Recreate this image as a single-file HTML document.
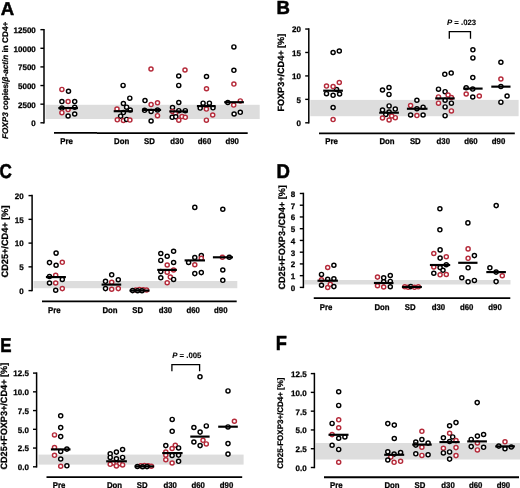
<!DOCTYPE html>
<html><head><meta charset="utf-8"><title>Figure</title>
<style>
html,body{margin:0;padding:0;background:#fff;}
body{width:520px;height:488px;overflow:hidden;}
svg{display:block;will-change:transform;}
svg text{text-rendering:geometricPrecision;font-family:"Liberation Sans", sans-serif;fill:#000;stroke:#000;stroke-width:0.25px;}
svg circle{fill:#fff;stroke-width:1.45;}
</style></head>
<body>
<svg width="520" height="488" viewBox="0 0 520 488">
<rect width="520" height="488" fill="#fff"/>
<rect x="45.5" y="104.8" width="214.2" height="14.200000000000003" fill="#dddddd"/>
<text transform="translate(0.8 14.8) scale(1.0 1.0)" font-size="18.6" font-weight="bold" style="stroke-width:0.5px">A</text>
<line x1="44" y1="28.900000000000006" x2="44" y2="123.55" stroke="#000" stroke-width="1.5"/>
<line x1="40.4" y1="122.8" x2="44" y2="122.8" stroke="#000" stroke-width="1.4"/>
<text transform="translate(35.8 126.14999999999999) scale(1 1.0)" font-size="8.0" text-anchor="end" font-weight="bold" font-style="normal" >0</text>
<line x1="40.4" y1="104.17" x2="44" y2="104.17" stroke="#000" stroke-width="1.4"/>
<text transform="translate(35.8 107.52) scale(1 1.0)" font-size="8.0" text-anchor="end" font-weight="bold" font-style="normal" >2500</text>
<line x1="40.4" y1="85.53999999999999" x2="44" y2="85.53999999999999" stroke="#000" stroke-width="1.4"/>
<text transform="translate(35.8 88.88999999999999) scale(1 1.0)" font-size="8.0" text-anchor="end" font-weight="bold" font-style="normal" >5000</text>
<line x1="40.4" y1="66.91" x2="44" y2="66.91" stroke="#000" stroke-width="1.4"/>
<text transform="translate(35.8 70.25999999999999) scale(1 1.0)" font-size="8.0" text-anchor="end" font-weight="bold" font-style="normal" >7500</text>
<line x1="40.4" y1="48.28" x2="44" y2="48.28" stroke="#000" stroke-width="1.4"/>
<text transform="translate(35.8 51.63) scale(1 1.0)" font-size="8.0" text-anchor="end" font-weight="bold" font-style="normal" >10000</text>
<line x1="40.4" y1="29.650000000000006" x2="44" y2="29.650000000000006" stroke="#000" stroke-width="1.4"/>
<text transform="translate(35.8 33.00000000000001) scale(1 1.0)" font-size="8.0" text-anchor="end" font-weight="bold" font-style="normal" >12500</text>
<line x1="54" y1="132.8" x2="97" y2="132.8" stroke="#000" stroke-width="1.8"/>
<line x1="97" y1="133.1" x2="247.7" y2="133.1" stroke="#000" stroke-width="1.8"/>
<text transform="translate(66.5 143.9) scale(1 1.08)" font-size="7.8" text-anchor="middle" font-weight="bold" font-style="normal" >Pre</text>
<text transform="translate(121.6 143.9) scale(1 1.08)" font-size="7.8" text-anchor="middle" font-weight="bold" font-style="normal" >Don</text>
<text transform="translate(149.5 143.9) scale(1 1.08)" font-size="7.8" text-anchor="middle" font-weight="bold" font-style="normal" >SD</text>
<text transform="translate(177 143.9) scale(1 1.08)" font-size="7.8" text-anchor="middle" font-weight="bold" font-style="normal" >d30</text>
<text transform="translate(204.5 143.9) scale(1 1.08)" font-size="7.8" text-anchor="middle" font-weight="bold" font-style="normal" >d60</text>
<text transform="translate(232.2 143.9) scale(1 1.08)" font-size="7.8" text-anchor="middle" font-weight="bold" font-style="normal" >d90</text>
<text transform="translate(7.9,139) rotate(-90)" font-size="8.2" font-weight="bold" textLength="117.3" lengthAdjust="spacingAndGlyphs"><tspan font-style="italic">FOXP3</tspan> copies/<tspan font-style="italic">β-actin</tspan> in CD4+</text>
<circle cx="61.9" cy="89.4" r="2.05" stroke="#b52a3a"/>
<circle cx="68.5" cy="91.25" r="2.05" stroke="#000"/>
<circle cx="61.9" cy="101.6" r="2.05" stroke="#000"/>
<circle cx="68.1" cy="101.6" r="2.05" stroke="#b52a3a"/>
<circle cx="74.7" cy="101.6" r="2.05" stroke="#000"/>
<circle cx="61.9" cy="108.1" r="2.05" stroke="#000"/>
<circle cx="68.1" cy="109.6" r="2.05" stroke="#b52a3a"/>
<circle cx="74.7" cy="107.3" r="2.05" stroke="#000"/>
<circle cx="61.9" cy="112.7" r="2.05" stroke="#b52a3a"/>
<circle cx="68.1" cy="116.0" r="2.05" stroke="#000"/>
<circle cx="74.7" cy="114.0" r="2.05" stroke="#000"/>
<circle cx="123.1" cy="85.4" r="2.05" stroke="#000"/>
<circle cx="129.8" cy="98.2" r="2.05" stroke="#000"/>
<circle cx="123.4" cy="103.5" r="2.05" stroke="#000"/>
<circle cx="126.6" cy="107.2" r="2.05" stroke="#000"/>
<circle cx="117.0" cy="109.0" r="2.05" stroke="#b52a3a"/>
<circle cx="130.2" cy="110.1" r="2.05" stroke="#000"/>
<circle cx="123.4" cy="112.6" r="2.05" stroke="#000"/>
<circle cx="120.6" cy="116.2" r="2.05" stroke="#000"/>
<circle cx="117.3" cy="119.8" r="2.05" stroke="#b52a3a"/>
<circle cx="123.4" cy="120.5" r="2.05" stroke="#b52a3a"/>
<circle cx="126.6" cy="119.4" r="2.05" stroke="#000"/>
<circle cx="129.9" cy="120.1" r="2.05" stroke="#b52a3a"/>
<circle cx="151.0" cy="69.0" r="2.05" stroke="#b52a3a"/>
<circle cx="145.0" cy="100.6" r="2.05" stroke="#000"/>
<circle cx="151.1" cy="104.55" r="2.05" stroke="#b52a3a"/>
<circle cx="157.5" cy="102.8" r="2.05" stroke="#b52a3a"/>
<circle cx="144.6" cy="110.3" r="2.05" stroke="#000"/>
<circle cx="151.1" cy="111.4" r="2.05" stroke="#000"/>
<circle cx="157.5" cy="110.0" r="2.05" stroke="#000"/>
<circle cx="157.5" cy="115.7" r="2.05" stroke="#b52a3a"/>
<circle cx="151.1" cy="121.0" r="2.05" stroke="#000"/>
<circle cx="185.0" cy="70.0" r="2.05" stroke="#b52a3a"/>
<circle cx="178.75" cy="76.0" r="2.05" stroke="#000"/>
<circle cx="178.75" cy="85.4" r="2.05" stroke="#000"/>
<circle cx="178.8" cy="102.5" r="2.05" stroke="#000"/>
<circle cx="172.5" cy="107.5" r="2.05" stroke="#000"/>
<circle cx="178.8" cy="110.7" r="2.05" stroke="#000"/>
<circle cx="185.3" cy="110.7" r="2.05" stroke="#000"/>
<circle cx="172.5" cy="111.5" r="2.05" stroke="#b52a3a"/>
<circle cx="175.5" cy="113.4" r="2.05" stroke="#b52a3a"/>
<circle cx="172.2" cy="117.3" r="2.05" stroke="#000"/>
<circle cx="175.8" cy="116.8" r="2.05" stroke="#000"/>
<circle cx="182.0" cy="116.6" r="2.05" stroke="#b52a3a"/>
<circle cx="185.3" cy="117.3" r="2.05" stroke="#b52a3a"/>
<circle cx="178.8" cy="120.2" r="2.05" stroke="#b52a3a"/>
<circle cx="206.5" cy="76.5" r="2.05" stroke="#000"/>
<circle cx="206.5" cy="88.75" r="2.05" stroke="#b52a3a"/>
<circle cx="203.1" cy="103.2" r="2.05" stroke="#000"/>
<circle cx="209.4" cy="103.2" r="2.05" stroke="#000"/>
<circle cx="200.2" cy="108.1" r="2.05" stroke="#000"/>
<circle cx="206.4" cy="109.1" r="2.05" stroke="#b52a3a"/>
<circle cx="213.0" cy="107.8" r="2.05" stroke="#000"/>
<circle cx="212.7" cy="115.0" r="2.05" stroke="#b52a3a"/>
<circle cx="206.4" cy="120.2" r="2.05" stroke="#b52a3a"/>
<circle cx="233.9" cy="46.9" r="2.05" stroke="#000"/>
<circle cx="233.9" cy="70.3" r="2.05" stroke="#000"/>
<circle cx="233.9" cy="84.1" r="2.05" stroke="#b52a3a"/>
<circle cx="227.8" cy="102.5" r="2.05" stroke="#000"/>
<circle cx="233.7" cy="105.1" r="2.05" stroke="#b52a3a"/>
<circle cx="240.3" cy="100.9" r="2.05" stroke="#b52a3a"/>
<circle cx="234.1" cy="114.0" r="2.05" stroke="#000"/>
<circle cx="240.3" cy="112.3" r="2.05" stroke="#000"/>
<line x1="58.3" y1="108.1" x2="77.9" y2="108.1" stroke="#000" stroke-width="2.15"/>
<line x1="113.7" y1="111.2" x2="132.75" y2="111.2" stroke="#000" stroke-width="2.15"/>
<line x1="142.1" y1="109.9" x2="161.1" y2="109.9" stroke="#000" stroke-width="2.15"/>
<line x1="169.3" y1="111.4" x2="188" y2="111.4" stroke="#000" stroke-width="2.15"/>
<line x1="196.9" y1="106.1" x2="215.6" y2="106.1" stroke="#000" stroke-width="2.15"/>
<line x1="224.2" y1="102.2" x2="243.9" y2="102.2" stroke="#000" stroke-width="2.15"/>
<rect x="310.3" y="99.9" width="208.3" height="16.299999999999997" fill="#dddddd"/>
<text transform="translate(276.4 13.5) scale(1.0 1.02)" font-size="18.6" font-weight="bold" style="stroke-width:0.5px">B</text>
<line x1="308.8" y1="28.289999999999992" x2="308.8" y2="123.55" stroke="#000" stroke-width="1.5"/>
<line x1="305.2" y1="122.8" x2="308.8" y2="122.8" stroke="#000" stroke-width="1.4"/>
<text transform="translate(301.0 126.14999999999999) scale(1 1.0)" font-size="8.0" text-anchor="end" font-weight="bold" font-style="normal" >0</text>
<line x1="305.2" y1="99.36" x2="308.8" y2="99.36" stroke="#000" stroke-width="1.4"/>
<text transform="translate(301.0 102.71) scale(1 1.0)" font-size="8.0" text-anchor="end" font-weight="bold" font-style="normal" >5</text>
<line x1="305.2" y1="75.91999999999999" x2="308.8" y2="75.91999999999999" stroke="#000" stroke-width="1.4"/>
<text transform="translate(301.0 79.26999999999998) scale(1 1.0)" font-size="8.0" text-anchor="end" font-weight="bold" font-style="normal" >10</text>
<line x1="305.2" y1="52.47999999999999" x2="308.8" y2="52.47999999999999" stroke="#000" stroke-width="1.4"/>
<text transform="translate(301.0 55.82999999999999) scale(1 1.0)" font-size="8.0" text-anchor="end" font-weight="bold" font-style="normal" >15</text>
<line x1="305.2" y1="29.039999999999992" x2="308.8" y2="29.039999999999992" stroke="#000" stroke-width="1.4"/>
<text transform="translate(301.0 32.38999999999999) scale(1 1.0)" font-size="8.0" text-anchor="end" font-weight="bold" font-style="normal" >20</text>
<line x1="319" y1="133.4" x2="514.8" y2="133.4" stroke="#000" stroke-width="1.8"/>
<text transform="translate(331.5 143.9) scale(1 1.08)" font-size="7.8" text-anchor="middle" font-weight="bold" font-style="normal" >Pre</text>
<text transform="translate(387 143.9) scale(1 1.08)" font-size="7.8" text-anchor="middle" font-weight="bold" font-style="normal" >Don</text>
<text transform="translate(415.3 143.9) scale(1 1.08)" font-size="7.8" text-anchor="middle" font-weight="bold" font-style="normal" >SD</text>
<text transform="translate(443.3 143.9) scale(1 1.08)" font-size="7.8" text-anchor="middle" font-weight="bold" font-style="normal" >d30</text>
<text transform="translate(470.9 143.9) scale(1 1.08)" font-size="7.8" text-anchor="middle" font-weight="bold" font-style="normal" >d60</text>
<text transform="translate(498.5 143.9) scale(1 1.08)" font-size="7.8" text-anchor="middle" font-weight="bold" font-style="normal" >d90</text>
<text transform="translate(284.1,111.6) rotate(-90)" font-size="9.0" font-weight="bold" textLength="77.8" lengthAdjust="spacingAndGlyphs">FOXP3+/CD4+ [%]</text>
<circle cx="333.1" cy="52.5" r="2.05" stroke="#000"/>
<circle cx="339.3" cy="51.0" r="2.05" stroke="#000"/>
<circle cx="336.6" cy="89.6" r="2.05" stroke="#000"/>
<circle cx="339.3" cy="82.5" r="2.05" stroke="#b52a3a"/>
<circle cx="326.5" cy="86.1" r="2.05" stroke="#b52a3a"/>
<circle cx="333.1" cy="86.6" r="2.05" stroke="#b52a3a"/>
<circle cx="326.5" cy="93.7" r="2.05" stroke="#000"/>
<circle cx="333.1" cy="95.3" r="2.05" stroke="#000"/>
<circle cx="339.6" cy="94.0" r="2.05" stroke="#000"/>
<circle cx="333.1" cy="107.5" r="2.05" stroke="#000"/>
<circle cx="333.1" cy="119.6" r="2.05" stroke="#b52a3a"/>
<circle cx="382.5" cy="90.0" r="2.05" stroke="#000"/>
<circle cx="389.0" cy="87.5" r="2.05" stroke="#000"/>
<circle cx="389.0" cy="94.4" r="2.05" stroke="#000"/>
<circle cx="389.1" cy="105.9" r="2.05" stroke="#000"/>
<circle cx="382.5" cy="110.1" r="2.05" stroke="#000"/>
<circle cx="395.3" cy="109.1" r="2.05" stroke="#000"/>
<circle cx="385.8" cy="114.4" r="2.05" stroke="#000"/>
<circle cx="389.1" cy="112.1" r="2.05" stroke="#000"/>
<circle cx="382.5" cy="118.0" r="2.05" stroke="#b52a3a"/>
<circle cx="389.1" cy="120.0" r="2.05" stroke="#b52a3a"/>
<circle cx="395.3" cy="117.7" r="2.05" stroke="#b52a3a"/>
<circle cx="391.7" cy="116.0" r="2.05" stroke="#b52a3a"/>
<circle cx="416.9" cy="100.25" r="2.05" stroke="#000"/>
<circle cx="410.6" cy="105.6" r="2.05" stroke="#b52a3a"/>
<circle cx="416.9" cy="108.75" r="2.05" stroke="#000"/>
<circle cx="423.1" cy="107.25" r="2.05" stroke="#000"/>
<circle cx="410.6" cy="115.0" r="2.05" stroke="#000"/>
<circle cx="416.9" cy="115.6" r="2.05" stroke="#b52a3a"/>
<circle cx="423.1" cy="115.0" r="2.05" stroke="#000"/>
<circle cx="444.8" cy="74.3" r="2.05" stroke="#000"/>
<circle cx="451.2" cy="73.1" r="2.05" stroke="#000"/>
<circle cx="438.5" cy="89.2" r="2.05" stroke="#000"/>
<circle cx="445.1" cy="91.7" r="2.05" stroke="#000"/>
<circle cx="448.1" cy="95.1" r="2.05" stroke="#b52a3a"/>
<circle cx="438.5" cy="96.9" r="2.05" stroke="#b52a3a"/>
<circle cx="451.4" cy="97.6" r="2.05" stroke="#b52a3a"/>
<circle cx="445.1" cy="100.2" r="2.05" stroke="#000"/>
<circle cx="438.5" cy="103.2" r="2.05" stroke="#b52a3a"/>
<circle cx="451.4" cy="103.2" r="2.05" stroke="#000"/>
<circle cx="445.1" cy="106.9" r="2.05" stroke="#000"/>
<circle cx="451.4" cy="110.9" r="2.05" stroke="#b52a3a"/>
<circle cx="445.1" cy="115.7" r="2.05" stroke="#000"/>
<circle cx="472.9" cy="49.8" r="2.05" stroke="#000"/>
<circle cx="472.9" cy="57.9" r="2.05" stroke="#000"/>
<circle cx="472.8" cy="77.6" r="2.05" stroke="#000"/>
<circle cx="466.2" cy="87.8" r="2.05" stroke="#000"/>
<circle cx="472.75" cy="89.1" r="2.05" stroke="#000"/>
<circle cx="466.2" cy="94.0" r="2.05" stroke="#b52a3a"/>
<circle cx="472.75" cy="97.0" r="2.05" stroke="#000"/>
<circle cx="479.3" cy="96.0" r="2.05" stroke="#b52a3a"/>
<circle cx="500.9" cy="62.2" r="2.05" stroke="#000"/>
<circle cx="500.9" cy="79.0" r="2.05" stroke="#b52a3a"/>
<circle cx="500.9" cy="86.6" r="2.05" stroke="#000"/>
<circle cx="507.1" cy="96.0" r="2.05" stroke="#000"/>
<circle cx="500.9" cy="102.2" r="2.05" stroke="#000"/>
<line x1="323.2" y1="90.7" x2="342.9" y2="90.7" stroke="#000" stroke-width="2.15"/>
<line x1="379.2" y1="112.7" x2="398.9" y2="112.7" stroke="#000" stroke-width="2.15"/>
<line x1="406.9" y1="108.75" x2="427.5" y2="108.75" stroke="#000" stroke-width="2.15"/>
<line x1="435.2" y1="98.4" x2="454.7" y2="98.4" stroke="#000" stroke-width="2.15"/>
<line x1="463.2" y1="88.6" x2="482.6" y2="88.6" stroke="#000" stroke-width="2.15"/>
<line x1="491.3" y1="86.65" x2="510.5" y2="86.65" stroke="#000" stroke-width="2.15"/>
<path d="M449.3 38.8 V31.6 H470.5 V38.8" fill="none" stroke="#000" stroke-width="1.3"/>
<text x="446.9" y="25.2" font-size="7.8" font-weight="bold" style="stroke-width:0.1px"><tspan font-style="italic">P</tspan> = .023</text>
<rect x="33.5" y="281" width="203.8" height="7.199999999999989" fill="#dddddd"/>
<text transform="translate(-0.6 178.1) scale(0.92 1.08)" font-size="18.6" font-weight="bold" style="stroke-width:0.5px">C</text>
<line x1="32.1" y1="194.85000000000002" x2="32.1" y2="291.35" stroke="#000" stroke-width="1.5"/>
<line x1="28.5" y1="290.6" x2="32.1" y2="290.6" stroke="#000" stroke-width="1.4"/>
<text transform="translate(23.6 293.95000000000005) scale(1 1.0)" font-size="8.0" text-anchor="end" font-weight="bold" font-style="normal" >0</text>
<line x1="28.5" y1="266.85" x2="32.1" y2="266.85" stroke="#000" stroke-width="1.4"/>
<text transform="translate(23.6 270.20000000000005) scale(1 1.0)" font-size="8.0" text-anchor="end" font-weight="bold" font-style="normal" >5</text>
<line x1="28.5" y1="243.10000000000002" x2="32.1" y2="243.10000000000002" stroke="#000" stroke-width="1.4"/>
<text transform="translate(23.6 246.45000000000002) scale(1 1.0)" font-size="8.0" text-anchor="end" font-weight="bold" font-style="normal" >10</text>
<line x1="28.5" y1="219.35000000000002" x2="32.1" y2="219.35000000000002" stroke="#000" stroke-width="1.4"/>
<text transform="translate(23.6 222.70000000000002) scale(1 1.0)" font-size="8.0" text-anchor="end" font-weight="bold" font-style="normal" >15</text>
<line x1="28.5" y1="195.60000000000002" x2="32.1" y2="195.60000000000002" stroke="#000" stroke-width="1.4"/>
<text transform="translate(23.6 198.95000000000002) scale(1 1.0)" font-size="8.0" text-anchor="end" font-weight="bold" font-style="normal" >20</text>
<line x1="42" y1="301.3" x2="236.7" y2="301.3" stroke="#000" stroke-width="1.8"/>
<text transform="translate(54.4 312.5) scale(1 1.08)" font-size="7.8" text-anchor="middle" font-weight="bold" font-style="normal" >Pre</text>
<text transform="translate(110 312.5) scale(1 1.08)" font-size="7.8" text-anchor="middle" font-weight="bold" font-style="normal" >Don</text>
<text transform="translate(137.75 312.5) scale(1 1.08)" font-size="7.8" text-anchor="middle" font-weight="bold" font-style="normal" >SD</text>
<text transform="translate(165.4 312.5) scale(1 1.08)" font-size="7.8" text-anchor="middle" font-weight="bold" font-style="normal" >d30</text>
<text transform="translate(193.1 312.5) scale(1 1.08)" font-size="7.8" text-anchor="middle" font-weight="bold" font-style="normal" >d60</text>
<text transform="translate(220.75 312.5) scale(1 1.08)" font-size="7.8" text-anchor="middle" font-weight="bold" font-style="normal" >d90</text>
<text transform="translate(7.5,277.5) rotate(-90)" font-size="9.2" font-weight="bold" textLength="72" lengthAdjust="spacingAndGlyphs">CD25+/CD4+ [%]</text>
<circle cx="56.1" cy="253.1" r="2.05" stroke="#000"/>
<circle cx="49.5" cy="262.6" r="2.05" stroke="#000"/>
<circle cx="56.1" cy="265.2" r="2.05" stroke="#000"/>
<circle cx="62.3" cy="262.3" r="2.05" stroke="#b52a3a"/>
<circle cx="49.5" cy="276.5" r="2.05" stroke="#000"/>
<circle cx="55.7" cy="275.2" r="2.05" stroke="#b52a3a"/>
<circle cx="62.3" cy="279.4" r="2.05" stroke="#000"/>
<circle cx="49.5" cy="283.0" r="2.05" stroke="#000"/>
<circle cx="55.7" cy="283.0" r="2.05" stroke="#b52a3a"/>
<circle cx="55.7" cy="290.2" r="2.05" stroke="#000"/>
<circle cx="62.3" cy="288.6" r="2.05" stroke="#b52a3a"/>
<circle cx="111.7" cy="274.8" r="2.05" stroke="#000"/>
<circle cx="118.3" cy="279.7" r="2.05" stroke="#000"/>
<circle cx="105.5" cy="281.3" r="2.05" stroke="#000"/>
<circle cx="111.7" cy="282.3" r="2.05" stroke="#b52a3a"/>
<circle cx="105.5" cy="288.6" r="2.05" stroke="#000"/>
<circle cx="111.7" cy="289.2" r="2.05" stroke="#b52a3a"/>
<circle cx="118.3" cy="288.6" r="2.05" stroke="#b52a3a"/>
<circle cx="135.8" cy="290.0" r="2.05" stroke="#b52a3a"/>
<circle cx="139.4" cy="289.6" r="2.05" stroke="#b52a3a"/>
<circle cx="143.2" cy="289.8" r="2.05" stroke="#b52a3a"/>
<circle cx="146.6" cy="290.0" r="2.05" stroke="#b52a3a"/>
<circle cx="132.6" cy="290.6" r="2.05" stroke="#000"/>
<circle cx="137.6" cy="290.7" r="2.05" stroke="#000"/>
<circle cx="142.0" cy="290.7" r="2.05" stroke="#000"/>
<circle cx="173.6" cy="251.2" r="2.05" stroke="#000"/>
<circle cx="160.8" cy="253.5" r="2.05" stroke="#000"/>
<circle cx="167.2" cy="256.3" r="2.05" stroke="#000"/>
<circle cx="160.8" cy="260.4" r="2.05" stroke="#000"/>
<circle cx="173.6" cy="262.5" r="2.05" stroke="#000"/>
<circle cx="167.2" cy="265.0" r="2.05" stroke="#b52a3a"/>
<circle cx="173.6" cy="270.0" r="2.05" stroke="#b52a3a"/>
<circle cx="160.8" cy="271.6" r="2.05" stroke="#000"/>
<circle cx="167.2" cy="272.2" r="2.05" stroke="#b52a3a"/>
<circle cx="160.8" cy="277.7" r="2.05" stroke="#000"/>
<circle cx="170.3" cy="277.1" r="2.05" stroke="#b52a3a"/>
<circle cx="173.6" cy="279.4" r="2.05" stroke="#000"/>
<circle cx="167.2" cy="282.7" r="2.05" stroke="#b52a3a"/>
<circle cx="194.8" cy="207.4" r="2.05" stroke="#000"/>
<circle cx="201.3" cy="255.5" r="2.05" stroke="#000"/>
<circle cx="201.3" cy="258.3" r="2.05" stroke="#b52a3a"/>
<circle cx="194.8" cy="257.5" r="2.05" stroke="#000"/>
<circle cx="188.6" cy="262.4" r="2.05" stroke="#000"/>
<circle cx="194.8" cy="264.7" r="2.05" stroke="#b52a3a"/>
<circle cx="194.8" cy="273.6" r="2.05" stroke="#000"/>
<circle cx="201.3" cy="272.6" r="2.05" stroke="#000"/>
<circle cx="222.8" cy="209.2" r="2.05" stroke="#000"/>
<circle cx="222.4" cy="257.3" r="2.05" stroke="#b52a3a"/>
<circle cx="229.3" cy="257.3" r="2.05" stroke="#000"/>
<circle cx="222.8" cy="270.0" r="2.05" stroke="#000"/>
<circle cx="222.8" cy="280.3" r="2.05" stroke="#000"/>
<line x1="45.9" y1="277.1" x2="65.9" y2="277.1" stroke="#000" stroke-width="2.15"/>
<line x1="101.6" y1="284.6" x2="121.2" y2="284.6" stroke="#000" stroke-width="2.15"/>
<line x1="129.5" y1="290.6" x2="149.5" y2="290.6" stroke="#000" stroke-width="2.15"/>
<line x1="157.2" y1="269.9" x2="176.9" y2="269.9" stroke="#000" stroke-width="2.15"/>
<line x1="184.6" y1="260.4" x2="205" y2="260.4" stroke="#000" stroke-width="2.15"/>
<line x1="212.9" y1="257.3" x2="233" y2="257.3" stroke="#000" stroke-width="2.15"/>
<rect x="304.4" y="280" width="206.10000000000002" height="4.5" fill="#dddddd"/>
<text transform="translate(276.55 178.4) scale(1.0 1.07)" font-size="18.6" font-weight="bold" style="stroke-width:0.5px">D</text>
<line x1="303.4" y1="192.72999999999996" x2="303.4" y2="288.15" stroke="#000" stroke-width="1.5"/>
<line x1="299.79999999999995" y1="287.4" x2="303.4" y2="287.4" stroke="#000" stroke-width="1.4"/>
<text transform="translate(295.3 290.75) scale(1 1.0)" font-size="8.0" text-anchor="end" font-weight="bold" font-style="normal" >0</text>
<line x1="299.79999999999995" y1="275.65999999999997" x2="303.4" y2="275.65999999999997" stroke="#000" stroke-width="1.4"/>
<text transform="translate(295.3 279.01) scale(1 1.0)" font-size="8.0" text-anchor="end" font-weight="bold" font-style="normal" >1</text>
<line x1="299.79999999999995" y1="263.91999999999996" x2="303.4" y2="263.91999999999996" stroke="#000" stroke-width="1.4"/>
<text transform="translate(295.3 267.27) scale(1 1.0)" font-size="8.0" text-anchor="end" font-weight="bold" font-style="normal" >2</text>
<line x1="299.79999999999995" y1="252.17999999999998" x2="303.4" y2="252.17999999999998" stroke="#000" stroke-width="1.4"/>
<text transform="translate(295.3 255.52999999999997) scale(1 1.0)" font-size="8.0" text-anchor="end" font-weight="bold" font-style="normal" >3</text>
<line x1="299.79999999999995" y1="240.43999999999997" x2="303.4" y2="240.43999999999997" stroke="#000" stroke-width="1.4"/>
<text transform="translate(295.3 243.78999999999996) scale(1 1.0)" font-size="8.0" text-anchor="end" font-weight="bold" font-style="normal" >4</text>
<line x1="299.79999999999995" y1="228.7" x2="303.4" y2="228.7" stroke="#000" stroke-width="1.4"/>
<text transform="translate(295.3 232.04999999999998) scale(1 1.0)" font-size="8.0" text-anchor="end" font-weight="bold" font-style="normal" >5</text>
<line x1="299.79999999999995" y1="216.95999999999998" x2="303.4" y2="216.95999999999998" stroke="#000" stroke-width="1.4"/>
<text transform="translate(295.3 220.30999999999997) scale(1 1.0)" font-size="8.0" text-anchor="end" font-weight="bold" font-style="normal" >6</text>
<line x1="299.79999999999995" y1="205.21999999999997" x2="303.4" y2="205.21999999999997" stroke="#000" stroke-width="1.4"/>
<text transform="translate(295.3 208.56999999999996) scale(1 1.0)" font-size="8.0" text-anchor="end" font-weight="bold" font-style="normal" >7</text>
<line x1="299.79999999999995" y1="193.47999999999996" x2="303.4" y2="193.47999999999996" stroke="#000" stroke-width="1.4"/>
<text transform="translate(295.3 196.82999999999996) scale(1 1.0)" font-size="8.0" text-anchor="end" font-weight="bold" font-style="normal" >8</text>
<line x1="313.75" y1="298.1" x2="510.3" y2="298.1" stroke="#000" stroke-width="1.8"/>
<text transform="translate(326 309.7) scale(1 1.08)" font-size="7.8" text-anchor="middle" font-weight="bold" font-style="normal" >Pre</text>
<text transform="translate(382 309.7) scale(1 1.08)" font-size="7.8" text-anchor="middle" font-weight="bold" font-style="normal" >Don</text>
<text transform="translate(410.1 309.7) scale(1 1.08)" font-size="7.8" text-anchor="middle" font-weight="bold" font-style="normal" >SD</text>
<text transform="translate(438.4 309.7) scale(1 1.08)" font-size="7.8" text-anchor="middle" font-weight="bold" font-style="normal" >d30</text>
<text transform="translate(466.7 309.7) scale(1 1.08)" font-size="7.8" text-anchor="middle" font-weight="bold" font-style="normal" >d60</text>
<text transform="translate(495 309.7) scale(1 1.08)" font-size="7.8" text-anchor="middle" font-weight="bold" font-style="normal" >d90</text>
<text transform="translate(285.3,289.6) rotate(-90)" font-size="9.1" font-weight="bold" textLength="104.5" lengthAdjust="spacingAndGlyphs">CD25+FOXP3-/CD4+ [%]</text>
<circle cx="333.9" cy="265.2" r="2.05" stroke="#000"/>
<circle cx="327.7" cy="267.5" r="2.05" stroke="#b52a3a"/>
<circle cx="321.5" cy="274.4" r="2.05" stroke="#000"/>
<circle cx="321.5" cy="279.7" r="2.05" stroke="#b52a3a"/>
<circle cx="327.7" cy="279.3" r="2.05" stroke="#000"/>
<circle cx="333.9" cy="278.7" r="2.05" stroke="#000"/>
<circle cx="321.5" cy="285.2" r="2.05" stroke="#000"/>
<circle cx="327.7" cy="287.5" r="2.05" stroke="#b52a3a"/>
<circle cx="330.3" cy="284.3" r="2.05" stroke="#b52a3a"/>
<circle cx="333.9" cy="286.6" r="2.05" stroke="#000"/>
<circle cx="377.5" cy="277.1" r="2.05" stroke="#b52a3a"/>
<circle cx="383.7" cy="277.8" r="2.05" stroke="#000"/>
<circle cx="390.3" cy="275.5" r="2.05" stroke="#000"/>
<circle cx="383.7" cy="281.7" r="2.05" stroke="#000"/>
<circle cx="390.3" cy="281.4" r="2.05" stroke="#000"/>
<circle cx="377.5" cy="285.7" r="2.05" stroke="#b52a3a"/>
<circle cx="383.7" cy="287.0" r="2.05" stroke="#b52a3a"/>
<circle cx="390.3" cy="286.7" r="2.05" stroke="#000"/>
<circle cx="404.8" cy="286.8" r="2.05" stroke="#b52a3a"/>
<circle cx="408.2" cy="287.3" r="2.05" stroke="#b52a3a"/>
<circle cx="410.8" cy="286.6" r="2.05" stroke="#000"/>
<circle cx="414.5" cy="287.3" r="2.05" stroke="#b52a3a"/>
<circle cx="418.3" cy="286.8" r="2.05" stroke="#b52a3a"/>
<circle cx="439.9" cy="208.7" r="2.05" stroke="#000"/>
<circle cx="439.9" cy="229.8" r="2.05" stroke="#000"/>
<circle cx="440.1" cy="249.9" r="2.05" stroke="#000"/>
<circle cx="433.8" cy="253.5" r="2.05" stroke="#b52a3a"/>
<circle cx="446.3" cy="256.8" r="2.05" stroke="#b52a3a"/>
<circle cx="440.1" cy="258.1" r="2.05" stroke="#000"/>
<circle cx="433.8" cy="267.0" r="2.05" stroke="#b52a3a"/>
<circle cx="440.1" cy="267.6" r="2.05" stroke="#000"/>
<circle cx="446.3" cy="264.7" r="2.05" stroke="#000"/>
<circle cx="443.0" cy="270.2" r="2.05" stroke="#000"/>
<circle cx="433.8" cy="273.2" r="2.05" stroke="#000"/>
<circle cx="440.1" cy="274.8" r="2.05" stroke="#b52a3a"/>
<circle cx="446.3" cy="274.5" r="2.05" stroke="#b52a3a"/>
<circle cx="467.9" cy="222.9" r="2.05" stroke="#000"/>
<circle cx="468.1" cy="248.9" r="2.05" stroke="#b52a3a"/>
<circle cx="468.1" cy="258.3" r="2.05" stroke="#b52a3a"/>
<circle cx="474.4" cy="255.6" r="2.05" stroke="#000"/>
<circle cx="468.1" cy="267.8" r="2.05" stroke="#000"/>
<circle cx="461.8" cy="277.7" r="2.05" stroke="#000"/>
<circle cx="468.1" cy="281.8" r="2.05" stroke="#000"/>
<circle cx="474.4" cy="280.4" r="2.05" stroke="#000"/>
<circle cx="496.2" cy="205.6" r="2.05" stroke="#000"/>
<circle cx="489.9" cy="267.8" r="2.05" stroke="#000"/>
<circle cx="496.1" cy="272.1" r="2.05" stroke="#000"/>
<circle cx="502.3" cy="275.7" r="2.05" stroke="#b52a3a"/>
<circle cx="496.1" cy="281.6" r="2.05" stroke="#000"/>
<line x1="317.5" y1="280.7" x2="337.9" y2="280.7" stroke="#000" stroke-width="2.15"/>
<line x1="373.9" y1="283" x2="393.5" y2="283" stroke="#000" stroke-width="2.15"/>
<line x1="401.9" y1="287" x2="421.9" y2="287" stroke="#000" stroke-width="2.15"/>
<line x1="429.9" y1="265" x2="450.2" y2="265" stroke="#000" stroke-width="2.15"/>
<line x1="458.2" y1="262.8" x2="477.5" y2="262.8" stroke="#000" stroke-width="2.15"/>
<line x1="486.3" y1="272.1" x2="505.9" y2="272.1" stroke="#000" stroke-width="2.15"/>
<rect x="38.5" y="454.6" width="205.1" height="10.0" fill="#dddddd"/>
<text transform="translate(0.2 352.0) scale(0.91 1.07)" font-size="18.6" font-weight="bold" style="stroke-width:0.5px">E</text>
<line x1="36.6" y1="372.35" x2="36.6" y2="467.55" stroke="#000" stroke-width="1.5"/>
<line x1="33.0" y1="466.8" x2="36.6" y2="466.8" stroke="#000" stroke-width="1.4"/>
<text transform="translate(28.9 470.15000000000003) scale(1 1.0)" font-size="8.0" text-anchor="end" font-weight="bold" font-style="normal" >0.0</text>
<line x1="33.0" y1="448.06" x2="36.6" y2="448.06" stroke="#000" stroke-width="1.4"/>
<text transform="translate(28.9 451.41) scale(1 1.0)" font-size="8.0" text-anchor="end" font-weight="bold" font-style="normal" >2.5</text>
<line x1="33.0" y1="429.32" x2="36.6" y2="429.32" stroke="#000" stroke-width="1.4"/>
<text transform="translate(28.9 432.67) scale(1 1.0)" font-size="8.0" text-anchor="end" font-weight="bold" font-style="normal" >5.0</text>
<line x1="33.0" y1="410.58000000000004" x2="36.6" y2="410.58000000000004" stroke="#000" stroke-width="1.4"/>
<text transform="translate(28.9 413.93000000000006) scale(1 1.0)" font-size="8.0" text-anchor="end" font-weight="bold" font-style="normal" >7.5</text>
<line x1="33.0" y1="391.84000000000003" x2="36.6" y2="391.84000000000003" stroke="#000" stroke-width="1.4"/>
<text transform="translate(28.9 395.19000000000005) scale(1 1.0)" font-size="8.0" text-anchor="end" font-weight="bold" font-style="normal" >10.0</text>
<line x1="33.0" y1="373.1" x2="36.6" y2="373.1" stroke="#000" stroke-width="1.4"/>
<text transform="translate(28.9 376.45000000000005) scale(1 1.0)" font-size="8.0" text-anchor="end" font-weight="bold" font-style="normal" >12.5</text>
<line x1="46.5" y1="477.1" x2="242.2" y2="477.1" stroke="#000" stroke-width="1.8"/>
<text transform="translate(59 488.2) scale(1 1.08)" font-size="7.8" text-anchor="middle" font-weight="bold" font-style="normal" >Pre</text>
<text transform="translate(114.5 488.2) scale(1 1.08)" font-size="7.8" text-anchor="middle" font-weight="bold" font-style="normal" >Don</text>
<text transform="translate(142.25 488.2) scale(1 1.08)" font-size="7.8" text-anchor="middle" font-weight="bold" font-style="normal" >SD</text>
<text transform="translate(170.2 488.2) scale(1 1.08)" font-size="7.8" text-anchor="middle" font-weight="bold" font-style="normal" >d30</text>
<text transform="translate(198.2 488.2) scale(1 1.08)" font-size="7.8" text-anchor="middle" font-weight="bold" font-style="normal" >d60</text>
<text transform="translate(226.5 488.2) scale(1 1.08)" font-size="7.8" text-anchor="middle" font-weight="bold" font-style="normal" >d90</text>
<text transform="translate(7.1,469.6) rotate(-90)" font-size="9.1" font-weight="bold" textLength="106.8" lengthAdjust="spacingAndGlyphs">CD25+FOXP3+/CD4+ [%]</text>
<circle cx="60.7" cy="415.8" r="2.05" stroke="#000"/>
<circle cx="60.7" cy="427.6" r="2.05" stroke="#000"/>
<circle cx="54.5" cy="434.9" r="2.05" stroke="#b52a3a"/>
<circle cx="60.7" cy="436.6" r="2.05" stroke="#000"/>
<circle cx="54.5" cy="447.5" r="2.05" stroke="#b52a3a"/>
<circle cx="60.7" cy="451.4" r="2.05" stroke="#000"/>
<circle cx="66.9" cy="449.1" r="2.05" stroke="#000"/>
<circle cx="54.5" cy="455.3" r="2.05" stroke="#b52a3a"/>
<circle cx="60.7" cy="459.0" r="2.05" stroke="#000"/>
<circle cx="60.7" cy="466.2" r="2.05" stroke="#b52a3a"/>
<circle cx="66.9" cy="465.8" r="2.05" stroke="#000"/>
<circle cx="122.6" cy="449.5" r="2.05" stroke="#000"/>
<circle cx="116.4" cy="452.1" r="2.05" stroke="#000"/>
<circle cx="110.2" cy="453.8" r="2.05" stroke="#000"/>
<circle cx="110.2" cy="457.4" r="2.05" stroke="#000"/>
<circle cx="116.4" cy="458.7" r="2.05" stroke="#000"/>
<circle cx="122.6" cy="457.4" r="2.05" stroke="#000"/>
<circle cx="113.1" cy="463.0" r="2.05" stroke="#b52a3a"/>
<circle cx="119.7" cy="463.6" r="2.05" stroke="#b52a3a"/>
<circle cx="110.2" cy="464.3" r="2.05" stroke="#b52a3a"/>
<circle cx="116.4" cy="465.9" r="2.05" stroke="#b52a3a"/>
<circle cx="122.6" cy="464.9" r="2.05" stroke="#b52a3a"/>
<circle cx="140.8" cy="465.8" r="2.05" stroke="#b52a3a"/>
<circle cx="144.4" cy="465.6" r="2.05" stroke="#b52a3a"/>
<circle cx="148.2" cy="465.8" r="2.05" stroke="#b52a3a"/>
<circle cx="151.4" cy="466.2" r="2.05" stroke="#b52a3a"/>
<circle cx="137.4" cy="466.5" r="2.05" stroke="#000"/>
<circle cx="142.6" cy="466.7" r="2.05" stroke="#000"/>
<circle cx="147.0" cy="466.6" r="2.05" stroke="#000"/>
<circle cx="172.2" cy="419.4" r="2.05" stroke="#000"/>
<circle cx="172.2" cy="431.3" r="2.05" stroke="#000"/>
<circle cx="165.8" cy="445.6" r="2.05" stroke="#000"/>
<circle cx="175.3" cy="445.2" r="2.05" stroke="#b52a3a"/>
<circle cx="172.1" cy="448.5" r="2.05" stroke="#b52a3a"/>
<circle cx="178.6" cy="447.9" r="2.05" stroke="#000"/>
<circle cx="165.8" cy="452.1" r="2.05" stroke="#b52a3a"/>
<circle cx="165.8" cy="455.1" r="2.05" stroke="#b52a3a"/>
<circle cx="172.1" cy="455.4" r="2.05" stroke="#000"/>
<circle cx="178.6" cy="455.1" r="2.05" stroke="#000"/>
<circle cx="165.8" cy="459.7" r="2.05" stroke="#b52a3a"/>
<circle cx="172.1" cy="463.0" r="2.05" stroke="#b52a3a"/>
<circle cx="178.6" cy="461.3" r="2.05" stroke="#000"/>
<circle cx="200.0" cy="376.8" r="2.05" stroke="#000"/>
<circle cx="193.9" cy="427.5" r="2.05" stroke="#000"/>
<circle cx="206.3" cy="425.9" r="2.05" stroke="#000"/>
<circle cx="200.1" cy="432.1" r="2.05" stroke="#000"/>
<circle cx="203.0" cy="440.3" r="2.05" stroke="#b52a3a"/>
<circle cx="193.9" cy="442.0" r="2.05" stroke="#000"/>
<circle cx="206.3" cy="443.9" r="2.05" stroke="#b52a3a"/>
<circle cx="200.1" cy="445.6" r="2.05" stroke="#000"/>
<circle cx="228.0" cy="390.9" r="2.05" stroke="#000"/>
<circle cx="234.4" cy="421.2" r="2.05" stroke="#b52a3a"/>
<circle cx="228.0" cy="426.9" r="2.05" stroke="#000"/>
<circle cx="228.0" cy="443.6" r="2.05" stroke="#000"/>
<circle cx="228.0" cy="454.1" r="2.05" stroke="#000"/>
<line x1="50.9" y1="449.4" x2="70.5" y2="449.4" stroke="#000" stroke-width="2.15"/>
<line x1="106.2" y1="461.3" x2="126.9" y2="461.3" stroke="#000" stroke-width="2.15"/>
<line x1="134.6" y1="466.4" x2="154.2" y2="466.4" stroke="#000" stroke-width="2.15"/>
<line x1="162.2" y1="453.1" x2="182.6" y2="453.1" stroke="#000" stroke-width="2.15"/>
<line x1="190.3" y1="436.6" x2="209.6" y2="436.6" stroke="#000" stroke-width="2.15"/>
<line x1="218.2" y1="426.7" x2="237.8" y2="426.7" stroke="#000" stroke-width="2.15"/>
<path d="M171.9 371.2 V364.7 H199.6 V371.2" fill="none" stroke="#000" stroke-width="1.3"/>
<text x="172.2" y="357.7" font-size="7.8" font-weight="bold" style="stroke-width:0.1px"><tspan font-style="italic">P</tspan> = .005</text>
<rect x="315.5" y="443" width="204.5" height="16.5" fill="#dddddd"/>
<text transform="translate(275.8 350.4) scale(0.98 1.09)" font-size="18.6" font-weight="bold" style="stroke-width:0.5px">F</text>
<line x1="314.4" y1="372.85" x2="314.4" y2="468.25" stroke="#000" stroke-width="1.5"/>
<line x1="310.79999999999995" y1="467.5" x2="314.4" y2="467.5" stroke="#000" stroke-width="1.4"/>
<text transform="translate(306.7 470.85) scale(1 1.0)" font-size="8.0" text-anchor="end" font-weight="bold" font-style="normal" >0.0</text>
<line x1="310.79999999999995" y1="448.72" x2="314.4" y2="448.72" stroke="#000" stroke-width="1.4"/>
<text transform="translate(306.7 452.07000000000005) scale(1 1.0)" font-size="8.0" text-anchor="end" font-weight="bold" font-style="normal" >2.5</text>
<line x1="310.79999999999995" y1="429.94" x2="314.4" y2="429.94" stroke="#000" stroke-width="1.4"/>
<text transform="translate(306.7 433.29) scale(1 1.0)" font-size="8.0" text-anchor="end" font-weight="bold" font-style="normal" >5.0</text>
<line x1="310.79999999999995" y1="411.15999999999997" x2="314.4" y2="411.15999999999997" stroke="#000" stroke-width="1.4"/>
<text transform="translate(306.7 414.51) scale(1 1.0)" font-size="8.0" text-anchor="end" font-weight="bold" font-style="normal" >7.5</text>
<line x1="310.79999999999995" y1="392.38" x2="314.4" y2="392.38" stroke="#000" stroke-width="1.4"/>
<text transform="translate(306.7 395.73) scale(1 1.0)" font-size="8.0" text-anchor="end" font-weight="bold" font-style="normal" >10.0</text>
<line x1="310.79999999999995" y1="373.6" x2="314.4" y2="373.6" stroke="#000" stroke-width="1.4"/>
<text transform="translate(306.7 376.95000000000005) scale(1 1.0)" font-size="8.0" text-anchor="end" font-weight="bold" font-style="normal" >12.5</text>
<line x1="324" y1="477.25" x2="519" y2="477.25" stroke="#000" stroke-width="1.8"/>
<text transform="translate(336.25 488.2) scale(1 1.08)" font-size="7.8" text-anchor="middle" font-weight="bold" font-style="normal" >Pre</text>
<text transform="translate(392 488.2) scale(1 1.08)" font-size="7.8" text-anchor="middle" font-weight="bold" font-style="normal" >Don</text>
<text transform="translate(420 488.2) scale(1 1.08)" font-size="7.8" text-anchor="middle" font-weight="bold" font-style="normal" >SD</text>
<text transform="translate(448 488.2) scale(1 1.08)" font-size="7.8" text-anchor="middle" font-weight="bold" font-style="normal" >d30</text>
<text transform="translate(475.7 488.2) scale(1 1.08)" font-size="7.8" text-anchor="middle" font-weight="bold" font-style="normal" >d60</text>
<text transform="translate(503.4 488.2) scale(1 1.08)" font-size="7.8" text-anchor="middle" font-weight="bold" font-style="normal" >d90</text>
<text transform="translate(283.3,468.8) rotate(-90)" font-size="8.0" font-weight="bold" textLength="91.3" lengthAdjust="spacingAndGlyphs">CD25-FOXP3+/CD4+ [%]</text>
<circle cx="338.7" cy="391.7" r="2.05" stroke="#000"/>
<circle cx="338.7" cy="405.4" r="2.05" stroke="#000"/>
<circle cx="338.7" cy="419.8" r="2.05" stroke="#b52a3a"/>
<circle cx="332.1" cy="423.4" r="2.05" stroke="#000"/>
<circle cx="338.7" cy="427.7" r="2.05" stroke="#b52a3a"/>
<circle cx="332.1" cy="434.6" r="2.05" stroke="#b52a3a"/>
<circle cx="338.7" cy="438.2" r="2.05" stroke="#000"/>
<circle cx="344.9" cy="436.9" r="2.05" stroke="#000"/>
<circle cx="332.1" cy="445.2" r="2.05" stroke="#000"/>
<circle cx="338.7" cy="449.4" r="2.05" stroke="#000"/>
<circle cx="338.7" cy="462.2" r="2.05" stroke="#b52a3a"/>
<circle cx="387.8" cy="423.6" r="2.05" stroke="#000"/>
<circle cx="394.3" cy="425.1" r="2.05" stroke="#000"/>
<circle cx="394.3" cy="438.5" r="2.05" stroke="#000"/>
<circle cx="387.8" cy="451.8" r="2.05" stroke="#000"/>
<circle cx="400.6" cy="452.5" r="2.05" stroke="#000"/>
<circle cx="394.1" cy="454.1" r="2.05" stroke="#000"/>
<circle cx="390.8" cy="457.1" r="2.05" stroke="#b52a3a"/>
<circle cx="387.8" cy="460.0" r="2.05" stroke="#000"/>
<circle cx="394.1" cy="462.3" r="2.05" stroke="#b52a3a"/>
<circle cx="400.6" cy="461.3" r="2.05" stroke="#b52a3a"/>
<circle cx="421.9" cy="431.3" r="2.05" stroke="#b52a3a"/>
<circle cx="421.9" cy="439.5" r="2.05" stroke="#000"/>
<circle cx="415.8" cy="442.1" r="2.05" stroke="#000"/>
<circle cx="415.8" cy="445.1" r="2.05" stroke="#000"/>
<circle cx="428.1" cy="443.1" r="2.05" stroke="#000"/>
<circle cx="421.9" cy="447.2" r="2.05" stroke="#b52a3a"/>
<circle cx="415.8" cy="453.8" r="2.05" stroke="#000"/>
<circle cx="421.9" cy="455.4" r="2.05" stroke="#b52a3a"/>
<circle cx="428.1" cy="454.7" r="2.05" stroke="#000"/>
<circle cx="456.0" cy="422.6" r="2.05" stroke="#000"/>
<circle cx="449.6" cy="425.7" r="2.05" stroke="#000"/>
<circle cx="449.6" cy="433.2" r="2.05" stroke="#b52a3a"/>
<circle cx="452.7" cy="436.9" r="2.05" stroke="#000"/>
<circle cx="443.4" cy="437.8" r="2.05" stroke="#000"/>
<circle cx="449.6" cy="441.5" r="2.05" stroke="#000"/>
<circle cx="456.0" cy="440.6" r="2.05" stroke="#b52a3a"/>
<circle cx="456.0" cy="447.6" r="2.05" stroke="#b52a3a"/>
<circle cx="443.4" cy="448.2" r="2.05" stroke="#b52a3a"/>
<circle cx="443.4" cy="452.9" r="2.05" stroke="#000"/>
<circle cx="449.6" cy="451.9" r="2.05" stroke="#000"/>
<circle cx="456.0" cy="455.6" r="2.05" stroke="#b52a3a"/>
<circle cx="449.6" cy="459.1" r="2.05" stroke="#000"/>
<circle cx="477.2" cy="402.6" r="2.05" stroke="#000"/>
<circle cx="483.6" cy="434.5" r="2.05" stroke="#000"/>
<circle cx="477.4" cy="436.1" r="2.05" stroke="#000"/>
<circle cx="471.2" cy="439.4" r="2.05" stroke="#000"/>
<circle cx="477.4" cy="443.0" r="2.05" stroke="#b52a3a"/>
<circle cx="471.2" cy="446.6" r="2.05" stroke="#000"/>
<circle cx="483.6" cy="447.3" r="2.05" stroke="#000"/>
<circle cx="477.4" cy="449.9" r="2.05" stroke="#b52a3a"/>
<circle cx="505.0" cy="441.8" r="2.05" stroke="#b52a3a"/>
<circle cx="498.8" cy="446.1" r="2.05" stroke="#000"/>
<circle cx="505.0" cy="448.7" r="2.05" stroke="#000"/>
<circle cx="511.3" cy="447.0" r="2.05" stroke="#000"/>
<line x1="328.5" y1="434.8" x2="348.5" y2="434.8" stroke="#000" stroke-width="2.15"/>
<line x1="384.2" y1="454.8" x2="404.2" y2="454.8" stroke="#000" stroke-width="2.15"/>
<line x1="412.2" y1="444.6" x2="431.7" y2="444.6" stroke="#000" stroke-width="2.15"/>
<line x1="439.4" y1="442.1" x2="459.7" y2="442.1" stroke="#000" stroke-width="2.15"/>
<line x1="467.2" y1="441.4" x2="486.9" y2="441.4" stroke="#000" stroke-width="2.15"/>
<line x1="495.2" y1="446.4" x2="514.9" y2="446.4" stroke="#000" stroke-width="2.15"/>
</svg>
</body></html>
